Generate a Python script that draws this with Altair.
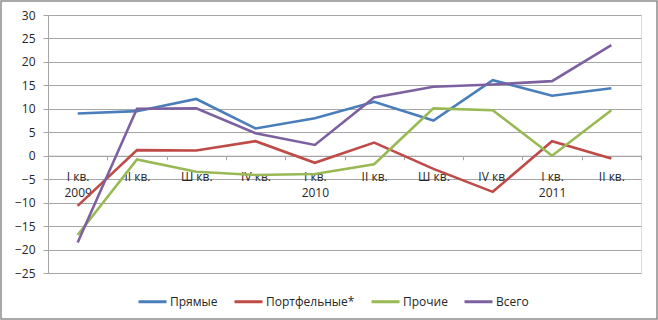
import json
import altair as alt
import pandas as pd

# ---- data ----
quarters = ["I кв.", "II кв.", "Ш кв.", "IV кв.", "I кв.", "II кв.", "Ш кв.", "IV кв.", "I кв.", "II кв."]
years = ["2009", "", "", "", "2010", "", "", "", "2011", ""]
series_names = ["Прямые", "Портфельные*", "Прочие", "Всего"]
series_colors = ["#4A7EBB", "#BE4B48", "#98B954", "#7D60A0"]

pryamye = [9.0, 9.5, 12.1, 5.8, 8.0, 11.5, 7.5, 16.1, 12.8, 14.4]
portfelnye = [-10.7, 1.2, 1.1, 3.1, -1.5, 2.8, -2.8, -7.7, 3.1, -0.6]
prochie = [-16.9, -0.8, -3.4, -4.1, -3.9, -1.8, 10.1, 9.7, 0.0, 9.7]
vsego = [-18.5, 10.0, 10.1, 4.8, 2.3, 12.4, 14.7, 15.2, 15.9, 23.6]

y_ticks = list(range(-25, 31, 5))

rows = []
for name, vals in zip(series_names, [pryamye, portfelnye, prochie, vsego]):
    for i, v in enumerate(vals):
        rows.append({"idx": i, "series": name, "value": v})
df = pd.DataFrame(rows)

label_arrays = [[q, y] if y else [q] for q, y in zip(quarters, years)]
label_expr = json.dumps(label_arrays, ensure_ascii=False) + "[datum.value]"

W, H = 593, 258
Y_MIN, Y_MAX = -25, 30
FONT = "Open Sans"
TEXT = "#262626"

x_axis_offset = -H * (0 - Y_MIN) / (Y_MAX - Y_MIN)

lines = alt.Chart(df).mark_line(strokeWidth=2.6).encode(
    x=alt.X(
        "idx:O",
        scale=alt.Scale(type="band", paddingInner=0, paddingOuter=0),
        axis=alt.Axis(
            title=None,
            labelExpr=label_expr,
            labelAngle=0,
            labelFont=FONT,
            labelFontSize=12,
            labelColor=TEXT,
            labelLineHeight=16,
            labelPadding=12,
            labelBaseline="top",
            tickBand="extent",
            tickSize=4,
            tickColor="#A6A6A6",
            domainColor="#A6A6A6",
            offset=x_axis_offset,
            grid=False,
            zindex=0,
        ),
    ),
    y=alt.Y(
        "value:Q",
        scale=alt.Scale(domain=[Y_MIN, Y_MAX], nice=False, zero=False),
        axis=alt.Axis(
            title=None,
            values=y_ticks,
            labelFont=FONT,
            labelFontSize=12,
            labelColor=TEXT,
            labelPadding=8,
            tickSize=5,
            tickColor="#A6A6A6",
            domainColor="#A6A6A6",
            gridColor="#A6A6A6",
            gridWidth=1,
        ),
    ),
    color=alt.Color(
        "series:N",
        scale=alt.Scale(domain=series_names, range=series_colors),
        sort=series_names,
        legend=alt.Legend(
            title=None,
            orient="none",
            direction="horizontal",
            legendX=89,
            legendY=271,
            symbolType="stroke",
            symbolSize=784,
            symbolStrokeWidth=3,
            labelFont=FONT,
            labelFontSize=12,
            labelColor=TEXT,
            labelOffset=2,
            columnPadding=10,
        ),
    ),
    order=alt.Order("idx:O"),
)

border = alt.Chart(pd.DataFrame({"a": [0]})).mark_rect(
    fill=None, stroke="#8C8C8C", strokeWidth=1.5
).encode(
    x=alt.value(-47), x2=alt.value(W + 16), y=alt.value(-14), y2=alt.value(H + 46)
)

chart = alt.layer(lines, border).properties(
    width=W,
    height=H,
    autosize=alt.AutoSizeParams(type="none"),
    padding={"left": 48, "top": 15, "right": 17, "bottom": 47},
).configure_view(stroke=None).configure(background="white")

chart.save("out.html", embed_options={"renderer": "svg", "actions": False})
